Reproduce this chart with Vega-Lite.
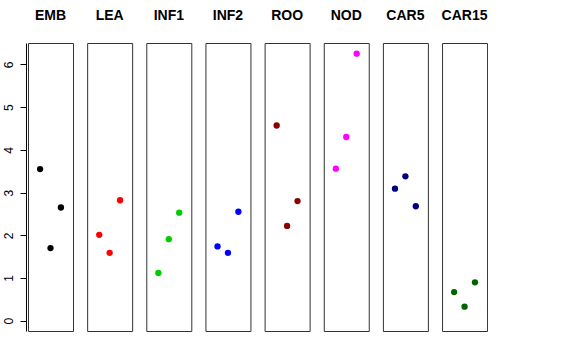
{
  "$schema": "https://vega.github.io/schema/vega-lite/v6.json",
  "padding": {"left": 2, "top": 9, "right": 0, "bottom": 0},
  "background": "white",
  "config": {
    "font": "Liberation Sans",
    "view": {"stroke": "#333333", "strokeWidth": 1}
  },
  "spacing": 14.15,
  "bounds": "flush",
  "data": {
    "values": [
      {"tissue": "EMB", "idx": 1, "value": 3.55},
      {"tissue": "EMB", "idx": 2, "value": 1.70},
      {"tissue": "EMB", "idx": 3, "value": 2.65},
      {"tissue": "LEA", "idx": 1, "value": 2.01},
      {"tissue": "LEA", "idx": 2, "value": 1.59},
      {"tissue": "LEA", "idx": 3, "value": 2.82},
      {"tissue": "INF1", "idx": 1, "value": 1.12},
      {"tissue": "INF1", "idx": 2, "value": 1.91},
      {"tissue": "INF1", "idx": 3, "value": 2.53},
      {"tissue": "INF2", "idx": 1, "value": 1.74},
      {"tissue": "INF2", "idx": 2, "value": 1.59},
      {"tissue": "INF2", "idx": 3, "value": 2.55},
      {"tissue": "ROO", "idx": 1, "value": 4.57},
      {"tissue": "ROO", "idx": 2, "value": 2.22},
      {"tissue": "ROO", "idx": 3, "value": 2.80},
      {"tissue": "NOD", "idx": 1, "value": 3.56},
      {"tissue": "NOD", "idx": 2, "value": 4.30},
      {"tissue": "NOD", "idx": 3, "value": 6.25},
      {"tissue": "CAR5", "idx": 1, "value": 3.09},
      {"tissue": "CAR5", "idx": 2, "value": 3.38},
      {"tissue": "CAR5", "idx": 3, "value": 2.68},
      {"tissue": "CAR15", "idx": 1, "value": 0.67},
      {"tissue": "CAR15", "idx": 2, "value": 0.33},
      {"tissue": "CAR15", "idx": 3, "value": 0.90}
    ]
  },
  "facet": {
    "column": {
      "field": "tissue",
      "type": "nominal",
      "sort": ["EMB", "LEA", "INF1", "INF2", "ROO", "NOD", "CAR5", "CAR15"],
      "header": {
        "title": null,
        "labelFontSize": 14,
        "labelFontWeight": "bold",
        "labelColor": "black",
        "labelPadding": 9,
        "labelBaseline": "alphabetic"
      }
    }
  },
  "spec": {
    "width": 45,
    "height": 288,
    "mark": {"type": "point", "filled": true, "shape": "circle", "size": 40, "opacity": 1},
    "encoding": {
      "x": {
        "field": "idx",
        "type": "quantitative",
        "scale": {"domain": [-0.16, 4.16], "nice": false, "zero": false},
        "axis": null
      },
      "y": {
        "field": "value",
        "type": "quantitative",
        "title": null,
        "scale": {"domain": [-0.24, 6.5], "nice": false, "zero": false},
        "axis": {
          "values": [0, 1, 2, 3, 4, 5, 6],
          "grid": false,
          "offset": 2,
          "tickSize": 6,
          "tickColor": "black",
          "domainColor": "black",
          "labelAngle": -90,
          "labelAlign": "center",
          "labelBaseline": "bottom",
          "labelPadding": 5,
          "labelFontSize": 12,
          "labelColor": "black"
        }
      },
      "color": {
        "field": "tissue",
        "type": "nominal",
        "scale": {
          "domain": ["EMB", "LEA", "INF1", "INF2", "ROO", "NOD", "CAR5", "CAR15"],
          "range": ["#000000", "#FF0000", "#00CD00", "#0000FF", "#8B0000", "#FF00FF", "#000080", "#006400"]
        },
        "legend": null
      }
    }
  }
}
